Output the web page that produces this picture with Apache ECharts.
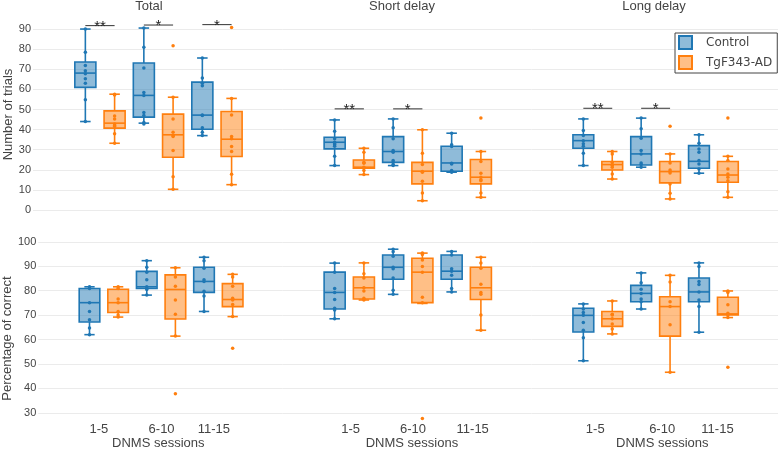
<!DOCTYPE html>
<html>
<head>
<meta charset="utf-8">
<script src="https://cdn.jsdelivr.net/npm/echarts@6/dist/echarts.min.js"></script>
<style>html,body{margin:0;padding:0;background:#fff}#chart{width:778px;height:451px}</style>
</head>
<body>
<div id="chart"></div>
<script>
// ---------- data ----------
const panelTitles = ['Total', 'Short delay', 'Long delay'];
const sessions = ['1-5', '6-10', '11-15'];
const groupNames = ['Control', 'TgF343-AD'];
const trialTicks = [0, 10, 20, 30, 40, 50, 60, 70, 80, 90];
const percentTicks = [30, 40, 50, 60, 70, 80, 90, 100];

// box stats per session: [min, Q1, median, Q3, max]
const trialsTotalControlBox = [[44.0,61.0,68.1,73.6,90.0],[43.2,46.2,57.0,73.1,90.5],[37.0,40.2,47.2,63.6,75.6]];
const trialsTotalTgBox      = [[33.2,40.7,43.2,49.3,57.6],[10.3,26.2,37.4,47.7,56.1],[12.6,26.6,35.2,49.0,55.5]];
const trialsShortControlBox = [[22.1,30.4,33.7,36.2,44.8],[22.1,23.7,29.1,36.5,45.3],[18.8,19.3,23.4,31.7,38.2]];
const trialsShortTgBox      = [[17.6,20.8,21.3,24.9,30.7],[4.6,13.0,19.3,23.7,39.9],[6.3,13.0,16.3,25.1,29.1]];
const trialsLongControlBox  = [[22.1,30.7,34.5,37.4,45.3],[21.3,22.4,27.9,36.5,45.7],[18.3,20.8,24.2,32.0,37.4]];
const trialsLongTgBox       = [[15.4,19.9,22.6,24.1,29.1],[5.5,13.5,19.1,24.1,27.9],[6.3,13.8,17.4,24.1,26.7]];

const pctTotalControlBox = [[62.0,67.2,75.1,80.9,81.6],[78.2,80.9,81.6,87.9,92.3],[71.5,79.3,83.8,89.6,93.7]];
const pctTotalTgBox      = [[69.2,71.1,75.1,80.6,81.6],[61.4,68.4,80.5,86.5,89.4],[69.4,73.5,76.4,82.9,86.7]];
const pctShortControlBox = [[68.5,72.5,79.3,87.6,91.3],[78.5,84.7,89.6,94.6,97.0],[79.5,84.7,88.0,94.6,96.1]];
const pctShortTgBox      = [[76.2,76.6,81.2,85.6,91.4],[74.8,75.1,87.6,93.3,95.4],[63.8,76.4,81.2,89.6,93.7]];
const pctLongControlBox  = [[51.3,63.1,69.9,72.8,74.6],[72.5,75.5,78.9,82.2,87.3],[63.0,75.5,79.5,85.2,91.4]];
const pctLongTgBox       = [[62.3,65.4,68.5,71.5,75.8],[46.6,61.4,73.5,77.5,86.3],[69.0,70.1,70.5,77.3,79.9]];

// individual animals per session
const trialsTotalControlPts = [[90.0,78.4,71.9,69.2,67.8,65.3,63.1,54.8,44.0],[90.5,80.9,70.6,58.5,57.0,48.5,47.0,43.5,42.8],[75.6,65.6,63.1,61.8,47.2,47.0,40.9,38.7,37.0]];
const trialsTotalTgPts      = [[57.6,57.2,46.8,45.2,42.8,42.0,41.5,37.9,33.2],[81.7,56.1,45.3,38.7,37.0,36.5,29.6,16.6,10.3],[90.8,55.5,47.2,36.5,35.4,31.6,29.1,17.8,12.6]];
const trialsShortControlPts = [[44.8,39.2,35.4,33.7,32.9,32.5,31.7,26.7,22.1],[45.3,40.9,35.4,29.6,28.7,24.6,23.7,22.6,22.1],[38.2,32.5,31.6,23.2,22.9,19.6,19.3,18.8]];
const trialsShortTgPts      = [[30.7,28.7,23.7,23.2,21.3,20.9,19.6,17.6],[39.9,28.2,22.6,19.1,18.8,14.3,8.5,4.6],[45.7,29.1,24.1,18.3,16.3,15.1,14.6,8.5,6.3]];
const trialsLongControlPts  = [[45.3,39.5,37.0,34.5,32.9,31.7,28.2,22.1],[45.7,40.4,35.7,29.6,27.9,23.4,22.6,21.3],[37.4,33.2,30.4,28.7,24.6,22.9,20.4,18.3]];
const trialsLongTgPts       = [[29.1,27.9,23.7,22.6,22.1,21.3,17.9,15.4],[41.7,27.9,23.4,19.9,19.1,18.4,12.9,8.3,5.5],[45.7,26.7,24.6,20.4,17.9,16.3,14.6,9.1,6.3]];

const pctTotalControlPts = [[81.6,80.9,75.1,71.5,68.1,64.7,62.0],[92.3,89.6,87.6,84.5,81.6,80.9,80.5,78.2],[93.7,92.3,89.2,84.5,83.8,79.8,77.8,71.5]];
const pctTotalTgPts      = [[81.6,80.9,76.6,75.1,71.5,70.1,69.2],[89.4,85.6,81.8,76.2,70.4,61.4,37.8],[86.7,85.6,81.8,76.9,76.2,74.4,69.4,56.4]];
const pctShortControlPts = [[91.3,87.6,80.9,79.3,76.4,72.8,72.1,68.5],[97.0,96.0,94.1,89.6,89.0,85.2,80.2,78.5],[96.1,94.6,89.0,88.0,86.3,80.9,79.5]];
const pctShortTgPts      = [[91.4,86.9,85.2,81.2,79.9,76.9,76.2],[95.4,94.8,92.6,89.9,87.6,77.3,75.1,27.7],[93.7,91.4,89.2,82.6,79.3,78.5,70.1,63.8]];
const pctLongControlPts  = [[74.6,72.5,71.1,69.9,67.0,63.8,60.7,51.3],[87.3,83.3,80.6,78.9,76.6,75.5,72.5],[91.4,89.9,83.8,82.5,79.5,76.2,73.5,63.0]];
const pctLongTgPts       = [[75.8,70.4,70.1,68.5,66.4,64.3,62.3],[86.3,83.6,75.5,73.5,66.1,46.6],[79.9,79.3,74.2,70.8,70.1,69.0,48.6]];

// significance: [session index, value of bar, label]
const sigTotal = [[0, 91.7, '**'], [1, 92.0, '*'], [2, 92.2, '*']];
const sigShort = [[0, 50.3, '**'], [1, 50.3, '*']];
const sigLong  = [[0, 50.6, '**'], [1, 50.6, '*']];

// ---------- layout / style ----------
const FONT = "'Liberation Sans', Arial, sans-serif";
const TXT = '#444';
const GRID_COLOR = '#ebebeb';
const COLORS = ['#1f77b4', '#ff7f0e'];
const FILLS = ['rgba(31,119,180,0.5)', 'rgba(255,127,14,0.5)'];
const GROUP_OFFSET = [-0.25, 0.25];
const BOX_WIDTH = 0.36;
const LINE_W = 1.6;
const X_MIN = -1.145, X_MAX = 3.117;
const PANEL_LEFT = [33, 282.3, 531.6];
const PANEL_W = 249.3;
// tick-label anchor positions (axis units) and axis-title shifts (px), as placed in the reference
const LABEL_POS = [[-0.085, 1.009, 1.923], [0.024, 1.089, 2.110], [-0.044, 1.113, 2.070]];
const NAME_SHIFT = [-2, 5, 7.5];
const ROWS = [{top: 19, height: 191, min: 0, max: 95, ticks: trialTicks, name: 'Number of trials', nameShift: 0},
              {top: 237, height: 186, min: 27, max: 102, ticks: percentTicks, name: 'Percentage of correct', nameShift: 10}];

const boxData = [
  [[trialsTotalControlBox, trialsTotalTgBox], [trialsShortControlBox, trialsShortTgBox], [trialsLongControlBox, trialsLongTgBox]],
  [[pctTotalControlBox, pctTotalTgBox], [pctShortControlBox, pctShortTgBox], [pctLongControlBox, pctLongTgBox]]
];
const ptsData = [
  [[trialsTotalControlPts, trialsTotalTgPts], [trialsShortControlPts, trialsShortTgPts], [trialsLongControlPts, trialsLongTgPts]],
  [[pctTotalControlPts, pctTotalTgPts], [pctShortControlPts, pctShortTgPts], [pctLongControlPts, pctLongTgPts]]
];
const sigData = [sigTotal, sigShort, sigLong];

function boxRenderer(stroke, fill) {
  return function (params, api) {
    const x = api.value(0);
    const p = [1, 2, 3, 4, 5].map(i => api.coord([x, api.value(i)]));
    const cx = p[0][0];
    const yMin = p[0][1], yQ1 = p[1][1], yMed = p[2][1], yQ3 = p[3][1], yMax = p[4][1];
    const hw = api.size([BOX_WIDTH, 0])[0] / 2;
    const cw = hw / 2;
    const ls = {stroke: stroke, lineWidth: LINE_W};
    return {type: 'group', children: [
      {type: 'line', shape: {x1: cx, y1: yMax, x2: cx, y2: yQ3}, style: ls},
      {type: 'line', shape: {x1: cx, y1: yQ1, x2: cx, y2: yMin}, style: ls},
      {type: 'line', shape: {x1: cx - cw, y1: yMax, x2: cx + cw, y2: yMax}, style: ls},
      {type: 'line', shape: {x1: cx - cw, y1: yMin, x2: cx + cw, y2: yMin}, style: ls},
      {type: 'rect', shape: {x: cx - hw, y: yQ3, width: 2 * hw, height: yQ1 - yQ3}, style: {fill: fill, stroke: stroke, lineWidth: LINE_W}},
      {type: 'line', shape: {x1: cx - hw, y1: yMed, x2: cx + hw, y2: yMed}, style: ls}
    ]};
  };
}

function sigRenderer(list) {
  return function (params, api) {
    const x = api.value(0), y = api.value(1);
    const a = api.coord([x + GROUP_OFFSET[0], y]);
    const b = api.coord([x + GROUP_OFFSET[1], y]);
    return {type: 'group', children: [
      {type: 'line', shape: {x1: a[0], y1: a[1], x2: b[0], y2: b[1]}, style: {stroke: '#333', lineWidth: 1}},
      {type: 'text', style: {x: (a[0] + b[0]) / 2, y: a[1] + 1, text: list[params.dataIndex][2], fill: '#222',
        font: '15px ' + FONT, align: 'center', verticalAlign: 'middle'}}
    ]};
  };
}

function nearestSession(pos, v) {
  let best = 0;
  pos.forEach((q, i) => { if (Math.abs(q - v) < Math.abs(pos[best] - v)) best = i; });
  return sessions[best];
}

const grids = [], xAxes = [], yAxes = [], series = [];
ROWS.forEach((row, r) => {
  PANEL_LEFT.forEach((left, p) => {
    const gi = grids.length;
    grids.push({left: left, top: row.top, width: PANEL_W, height: row.height, containLabel: false});
    const bottomRow = r === 1;
    const shift = NAME_SHIFT[p];
    xAxes.push({
      type: 'value', gridIndex: gi, min: X_MIN, max: X_MAX, show: bottomRow,
      axisLine: {show: false}, axisTick: {show: false, customValues: LABEL_POS[p]}, splitLine: {show: false},
      axisLabel: {show: bottomRow, customValues: LABEL_POS[p], formatter: v => nearestSession(LABEL_POS[p], v),
        fontFamily: FONT, fontSize: 13, color: TXT, margin: 3},
      name: bottomRow ? 'DNMS sessions' : '', nameLocation: 'middle', nameGap: 15,
      nameTextStyle: {fontFamily: FONT, fontSize: 13, color: TXT,
        padding: shift >= 0 ? [0, 0, 0, 2 * shift] : [0, -2 * shift, 0, 0]}
    });
    yAxes.push({
      type: 'value', gridIndex: gi, min: row.min, max: row.max,
      axisLine: {show: false}, axisTick: {show: false, customValues: row.ticks},
      splitLine: {show: true, lineStyle: {color: GRID_COLOR, width: 1}},
      axisLabel: {show: p === 0, customValues: row.ticks, fontFamily: FONT, fontSize: 11, color: TXT, margin: 2},
      name: p === 0 ? row.name : '', nameLocation: 'middle', nameGap: 18,
      nameTextStyle: {fontFamily: FONT, fontSize: 13, color: TXT, padding: [0, 2 * row.nameShift, 0, 0]}
    });
    [0, 1].forEach(g => {
      const stats = boxData[r][p][g];
      series.push({
        type: 'custom', name: groupNames[g], xAxisIndex: gi, yAxisIndex: gi,
        renderItem: boxRenderer(COLORS[g], FILLS[g]),
        encode: {x: 0, y: [1, 2, 3, 4, 5]},
        itemStyle: {color: COLORS[g]},
        data: stats.map((s, i) => [i + GROUP_OFFSET[g]].concat(s)),
        z: 2, silent: true
      });
    });
    [0, 1].forEach(g => {
      const pts = ptsData[r][p][g];
      const d = [];
      pts.forEach((arr, i) => arr.forEach(v => d.push([i + GROUP_OFFSET[g], v])));
      series.push({
        type: 'scatter', name: groupNames[g], xAxisIndex: gi, yAxisIndex: gi,
        symbolSize: 3.5, itemStyle: {color: COLORS[g], opacity: 1}, data: d, z: 4, clip: false, silent: true
      });
    });
    if (r === 0) {
      const sig = sigData[p];
      series.push({
        type: 'custom', name: 'sig', xAxisIndex: gi, yAxisIndex: gi,
        renderItem: sigRenderer(sig), encode: {x: 0, y: 1},
        data: sig.map(s => [s[0], s[1]]), z: 5, silent: true
      });
    }
  });
});

const titles = panelTitles.map((t, p) => ({
  text: t, left: [149, 402, 654][p], top: 0, textAlign: 'center', padding: 0,
  textStyle: {fontFamily: FONT, fontSize: 13, fontWeight: 'normal', color: TXT}
}));

const chart = echarts.init(document.getElementById('chart'), null, {renderer: 'canvas'});
chart.setOption({
  animation: false,
  backgroundColor: '#fff',
  title: titles,
  legend: {
    orient: 'vertical', left: 675, top: 33, padding: [2, 5, 3, 3], itemGap: 5,
    itemWidth: 13, itemHeight: 13, borderColor: '#444', borderWidth: 1, backgroundColor: '#fff',
    textStyle: {fontFamily: "'DejaVu Sans', Verdana, sans-serif", fontSize: 12, color: TXT, padding: [0, 0, 0, 9]},
    data: groupNames.map((n, g) => ({name: n, icon: 'rect',
      itemStyle: {color: FILLS[g], borderColor: COLORS[g], borderWidth: 2}}))
  },
  grid: grids, xAxis: xAxes, yAxis: yAxes, series: series
});
</script>
</body>
</html>
